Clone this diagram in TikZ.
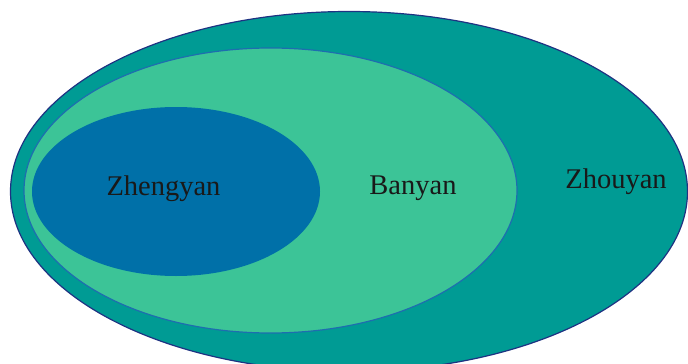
\documentclass[tikz,border=0pt]{standalone}
\usepackage{fontspec}
\setmainfont{Liberation Serif}
\definecolor{outerfill}{RGB}{0,155,148}
\definecolor{outerline}{RGB}{30,50,130}
\definecolor{midfill}{RGB}{60,196,151}
\definecolor{midline}{RGB}{30,110,175}
\definecolor{innerfill}{RGB}{0,112,168}
\tikzset{
  lbl/.style={font=\fontsize{28.5}{30}\selectfont, text=black!90, inner sep=0pt}
}
\begin{document}
\begin{tikzpicture}[x=1pt,y=-1pt]
\useasboundingbox (0,0) rectangle (688,364);
\clip (0,0) rectangle (688,364);
\fill[white] (0,0) rectangle (688,364);
\draw[fill=outerfill, draw=outerline, line width=1.2pt] (349,191.5) ellipse [x radius=338.5, y radius=180];
\draw[fill=midfill, draw=midline, line width=1.2pt] (270.5,190.5) ellipse [x radius=246.5, y radius=142.5];
\fill[innerfill] (176,191.5) ellipse [x radius=144, y radius=84.5];
\node[lbl] (zheng) at (163.5,188.5) {Zhengyan};
\node[lbl] (ban) at (413,188.5) {Banyan};
\node[lbl] (zhou) at (616,182) {Zhouyan};
\end{tikzpicture}
\end{document}
